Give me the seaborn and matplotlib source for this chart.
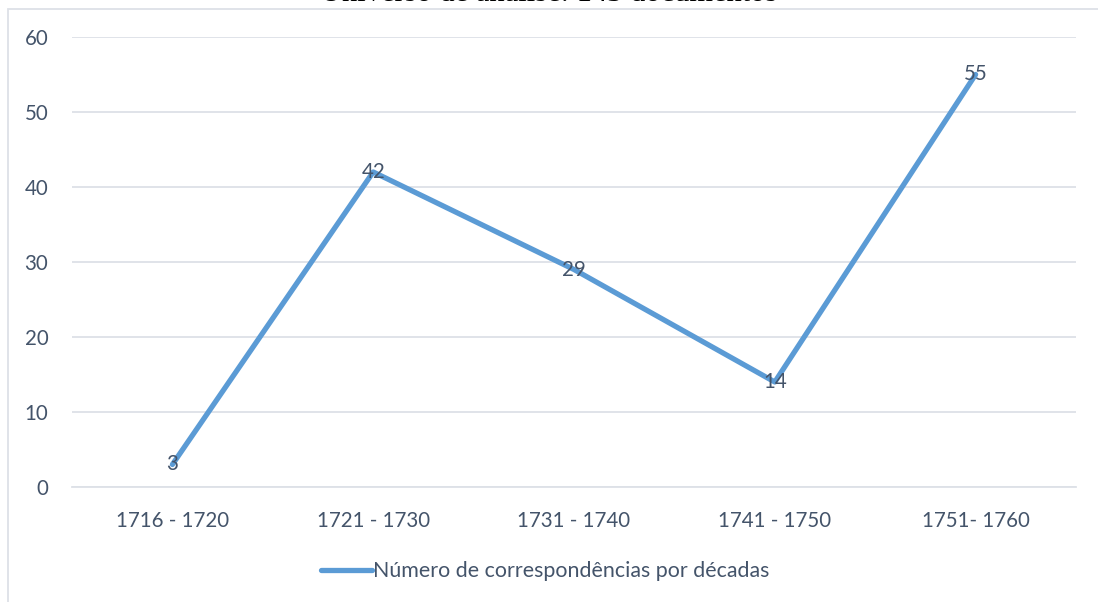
import numpy as np, pandas as pd, matplotlib
matplotlib.use('Agg')
import matplotlib.pyplot as plt
from matplotlib.patches import Rectangle
import seaborn as sns

# data
decadas = ['1716 - 1720', '1721 - 1730', '1731 - 1740', '1741 - 1750', '1751- 1760']
cartas = [3, 42, 29, 14, 55]
serie = 'Número de correspondências por décadas'
titulo = 'Universo de análise: 143 documentos'
y_ticks = [0, 10, 20, 30, 40, 50, 60]

df = pd.DataFrame({'decada': decadas, 'n': cartas})

sns.set_style('white')
plt.rcParams['font.family'] = ['Lato', 'DejaVu Sans']

txt = '#44546a'
grid = '#dde1e7'
azul = '#5b9bd5'
fs = 14.8

fig = plt.figure(figsize=(10.98, 6.02), dpi=100)
ax = fig.add_axes([72/1098, 115/602, 1004/1098, 450/602])

sns.lineplot(data=df, x='decada', y='n', ax=ax, color=azul, linewidth=3.8,
             solid_capstyle='round', label=serie, sort=False)

for i, v in enumerate(cartas):
    ax.text(i, v, str(v), ha='center', va='center', fontsize=fs, color=txt)

ax.set_xlim(-0.5, len(decadas) - 0.5)
ax.set_ylim(0, 60)
ax.set_yticks(y_ticks)
ax.yaxis.grid(True, color=grid, linewidth=1.3)
ax.set_axisbelow(True)
ax.set_xlabel('')
ax.set_ylabel('')

for s in ['top', 'right', 'left']:
    ax.spines[s].set_visible(False)
ax.spines['bottom'].set_color(grid)
ax.spines['bottom'].set_linewidth(1.3)

ax.tick_params(axis='y', length=0, pad=17, labelsize=fs, labelcolor=txt)
ax.tick_params(axis='x', which='major', length=0, pad=17, labelsize=fs, labelcolor=txt)
ax.set_xticks(np.arange(-0.5, len(decadas)), minor=True)
ax.tick_params(axis='x', which='minor', length=7, width=1.3, color=grid)

leg = ax.legend(loc='center', bbox_to_anchor=(545/1098, 31/602), bbox_transform=fig.transFigure,
                frameon=False, fontsize=15.4, handlelength=2.4, handletextpad=0.05)
for t in leg.get_texts():
    t.set_color(txt)

# chart border (cut off at right and bottom)
fig.add_artist(Rectangle((8/1098, -0.1), 1.2, 1 - 9/602 + 0.1, transform=fig.transFigure,
                         fill=False, edgecolor=grid, linewidth=1.3))

# title sits mostly above the picture, as in the original crop
fig.text(0.5, 1 - 1/602, titulo, ha='center', va='baseline', fontsize=22,
         family=['Liberation Serif'], color='black')

fig.savefig('out.png', dpi=100)
